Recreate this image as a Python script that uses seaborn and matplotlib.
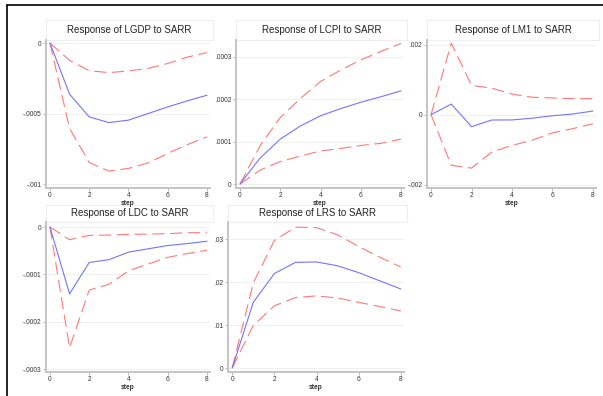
import numpy as np
import pandas as pd
import matplotlib
matplotlib.use("Agg")
import matplotlib.pyplot as plt
import seaborn as sns

steps = [0, 1, 2, 3, 4, 5, 6, 7, 8]

lgdp_irf = [0, -0.000363, -0.000524, -0.000564, -0.000547, -0.0005, -0.000453, -0.00041, -0.00037]
lgdp_up = [0, -0.000123, -0.000196, -0.00021, -0.000198, -0.00018, -0.000145, -0.0001, -0.000068]
lgdp_lo = [0, -0.000606, -0.000847, -0.000908, -0.000889, -0.00085, -0.000783, -0.00072, -0.000665]

lcpi_irf = [0, 0.0000614, 0.000106, 0.000137, 0.000161, 0.000178, 0.000193, 0.000206, 0.00022]
lcpi_up = [0, 0.0000906, 0.000157, 0.000202, 0.000242, 0.000269, 0.000293, 0.000313, 0.000332]
lcpi_lo = [0, 0.000033, 0.000053, 0.000066, 0.000078, 0.000084, 0.000091, 0.000096, 0.000106]

lm1_irf = [0, 0.000305, -0.000343, -0.000152, -0.00015, -0.0001, -0.00003, 0.00002, 0.000105]
lm1_up = [0, 0.00205, 0.00084, 0.00076, 0.00059, 0.0005, 0.00048, 0.00046, 0.00046]
lm1_lo = [0, -0.00145, -0.00153, -0.00107, -0.00088, -0.00073, -0.00052, -0.0004, -0.00026]

ldc_irf = [0, -0.000141, -0.0000748, -0.000069, -0.000053, -0.000046, -0.000039, -0.000035, -0.00003]
ldc_up = [0, -0.0000268, -0.0000176, -0.000017, -0.0000155, -0.000015, -0.000014, -0.000012, -0.000012]
ldc_lo = [0, -0.000255, -0.000133, -0.000121, -0.0000925, -0.000078, -0.000064, -0.000056, -0.000049]

lrs_irf = [0, 0.0153, 0.022, 0.0246, 0.0247, 0.0238, 0.0222, 0.0203, 0.0184]
lrs_up = [0, 0.0198, 0.0297, 0.0328, 0.0327, 0.031, 0.0283, 0.0258, 0.0235]
lrs_lo = [0, 0.0099, 0.0145, 0.0164, 0.0168, 0.0163, 0.0153, 0.0143, 0.0133]

titles = ["Response of LGDP to SARR", "Response of LCPI to SARR", "Response of LM1 to SARR",
          "Response of LDC to SARR", "Response of LRS to SARR"]
yticks = [[0, -0.0005, -0.001], [0, 0.0001, 0.0002, 0.0003], [-0.002, 0, 0.002],
          [0, -0.0001, -0.0002, -0.0003], [0, 0.01, 0.02, 0.03]]
ytick_labels = [["0", "-.0005", "-.001"], ["0", ".0001", ".0002", ".0003"], ["-.002", "0", ".002"],
                ["0", "-.0001", "-.0002", "-.0003"], ["0", ".01", ".02", ".03"]]
xticks = [0, 2, 4, 6, 8]

series = [(lgdp_irf, lgdp_up, lgdp_lo), (lcpi_irf, lcpi_up, lcpi_lo), (lm1_irf, lm1_up, lm1_lo),
          (ldc_irf, ldc_up, ldc_lo), (lrs_irf, lrs_up, lrs_lo)]

# layout in pixels: left, right, top, bottom, title-box height
W, H = 603, 396
boxes = [(46, 210, 40, 188, 20), (236, 404, 40, 188, 20), (427, 596, 40, 188, 20),
         (46, 210, 222, 372, 17), (228, 404, 222, 372, 17)]
ylims = [(-0.001028, 0.0000213), (-0.0000094, 0.00034), (-0.0021, 0.00214),
         (-0.000306, 0.0000106), (-0.00093, 0.034)]

sns.set_theme(style="white")
plt.rcParams['font.family'] = ['Liberation Sans', 'DejaVu Sans']

fig = plt.figure(figsize=(W / 100, H / 100), dpi=100)
fig.patch.set_facecolor("white")

# outer frame lines (left and top)
fig.add_artist(plt.Line2D([7 / W, 7 / W], [0, 1 - 5 / H], color="black", lw=1.2))
fig.add_artist(plt.Line2D([7 / W, 1], [1 - 5 / H, 1 - 5 / H], color="black", lw=1.2))

blue = "#7474ff"
red = "#ff7878"
dash = (0, (11, 5))

for i, (b, t, (irf, up, lo)) in enumerate(zip(boxes, titles, series)):
    l, r, tp, bt, th = b
    # title box (drawn beneath the plot axes)
    tax = fig.add_axes([l / W, 1 - tp / H, (r - l + 3) / W, th / H])
    tax.set_zorder(-1)
    tax.set_xticks([])
    tax.set_yticks([])
    for s in tax.spines.values():
        s.set_color("#eeeeee")
        s.set_linewidth(0.8)
    tax.set_facecolor("white")
    tax.text(0.5, 0.5, t, ha="center", va="center", fontsize=7.0, color="#222222",
             transform=tax.transAxes)

    ax = fig.add_axes([l / W, 1 - bt / H, (r - l) / W, (bt - tp) / H])
    ax.patch.set_alpha(0)
    df = pd.DataFrame({"step": steps * 3,
                       "value": list(irf) + list(up) + list(lo),
                       "kind": ["irf"] * 9 + ["up"] * 9 + ["lo"] * 9})
    sns.lineplot(data=df[df.kind == "up"], x="step", y="value", ax=ax, color=red, lw=0.8,
                 linestyle=dash)
    sns.lineplot(data=df[df.kind == "lo"], x="step", y="value", ax=ax, color=red, lw=0.8,
                 linestyle=dash)
    sns.lineplot(data=df[df.kind == "irf"], x="step", y="value", ax=ax, color=blue, lw=0.8)
    ax.set_xlim(-0.2, 8.15)
    ax.set_ylim(*ylims[i])
    ax.set_yticks(yticks[i])
    ax.set_yticklabels(ytick_labels[i])
    ax.set_xticks(xticks)
    ax.set_xticklabels([str(x) for x in xticks])
    ax.tick_params(axis="both", labelsize=4.8, length=2, width=0.5, color="#999999",
                   labelcolor="#333333", pad=1.2, left=True, bottom=True)
    ax.set_ylabel("")
    ax.set_xlabel("step", fontsize=4.8, fontweight="bold", labelpad=0.3, color="#333333")
    ax.grid(axis="y", color="#f0f0f0", lw=0.8)
    ax.set_axisbelow(True)
    for s in ["top", "right"]:
        ax.spines[s].set_visible(False)
    for s in ["left", "bottom"]:
        ax.spines[s].set_color("#c4c4c4")
        ax.spines[s].set_linewidth(1.4)

fig.savefig("out.png", dpi=100, facecolor="white")
